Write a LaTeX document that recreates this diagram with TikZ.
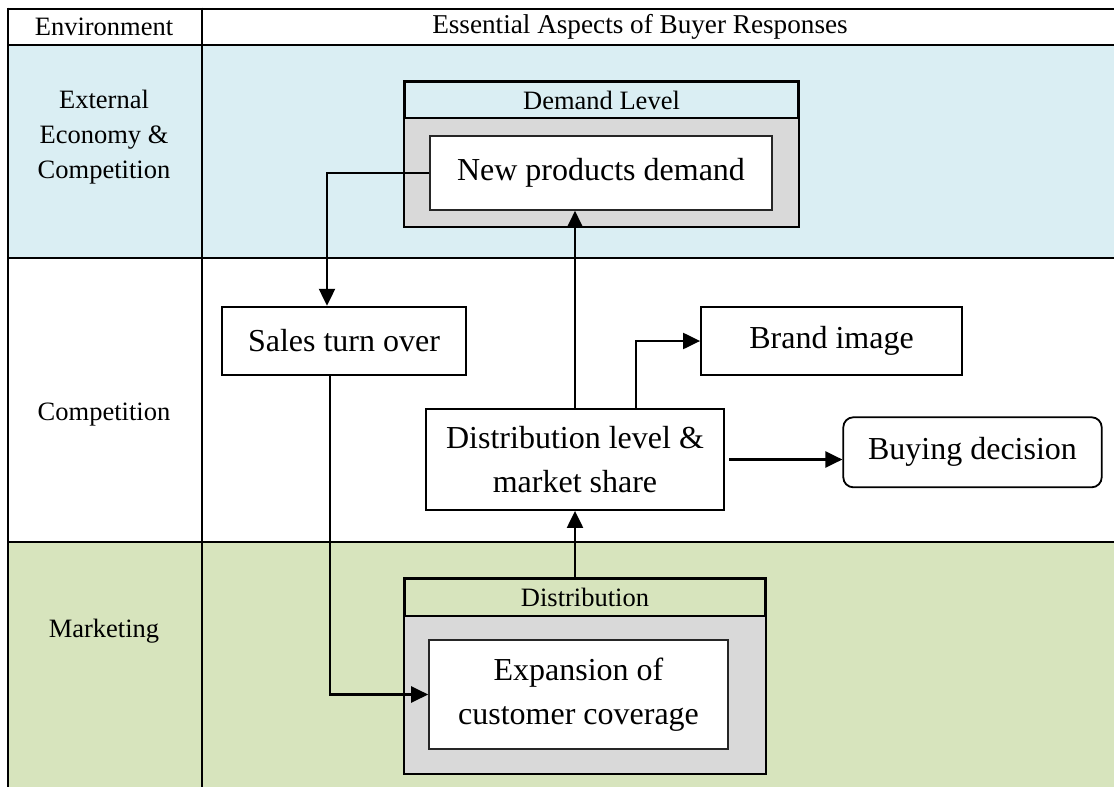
\documentclass[tikz,border=0pt]{standalone}
\usepackage{fontspec}
\setmainfont{Liberation Serif}
\usetikzlibrary{arrows.meta}
\definecolor{rowblue}{HTML}{DAEEF3}
\definecolor{rowgreen}{HTML}{D7E4BD}
\definecolor{boxgray}{HTML}{D9D9D9}
\tikzset{
  smalltxt/.style={font=\fontsize{26.5}{35}\selectfont, align=center, inner sep=0pt},
  bigtxt/.style={font=\fontsize{32}{43.5}\selectfont, align=center},
  grid/.style={line width=2.6pt},
  plainbox/.style={bigtxt, draw, line width=1.8pt, fill=white, inner sep=0pt},
  innerbox/.style={bigtxt, draw=black!85, line width=1.6pt, fill=white, inner sep=0pt},
  outerbox/.style={draw, line width=2.2pt, inner sep=0pt},
  arr/.style={line width=2.2pt, -{Triangle[length=17pt,width=16pt]}},
  link/.style={line width=2pt}
}
\begin{document}
\begin{tikzpicture}[x=1pt,y=-1pt]
\useasboundingbox (0,0) rectangle (1114,787);
\fill[white] (0,0) rectangle (1114,787);

% row backgrounds
\fill[rowblue] (8,45) rectangle (1114,258);
\fill[rowgreen] (8,542) rectangle (1114,787);

% table rules
\draw[grid] (8,9) -- (1114,9);
\draw[grid] (8,45) -- (1114,45);
\draw[grid] (8,258) -- (1114,258);
\draw[grid] (8,542) -- (1114,542);
\draw[grid] (8,7.7) -- (8,787);
\draw[grid] (202,7.7) -- (202,787);

% headings and row labels
\node[smalltxt] (env) at (104,27) {Environment};
\node[smalltxt, font=\fontsize{27.2}{35}\selectfont] (ess) at (640,27) {Essential Aspects of Buyer Responses};
\node[smalltxt] (ext) at (104,137) {External\\Economy \&\\Competition};
\node[smalltxt] (comp) at (104,415) {Competition};
\node[smalltxt] (mkt) at (104,631) {Marketing};

% demand level group
\node[outerbox, minimum width=393pt, minimum height=144pt] (dlv) at (601.5,154) {};
\fill[boxgray] (dlv.west |- 0,118) rectangle (dlv.south east);
\draw[line width=2.2pt] (dlv.north west) rectangle (dlv.south east);
\draw[line width=2.2pt] (dlv.west |- 0,118) -- (dlv.east |- 0,118);
\node[smalltxt] (dlvt) at (601.5,100) {Demand Level};
\node[innerbox, minimum width=342pt, minimum height=74pt] (npd) at (601,173) {New products demand};

% distribution group
\node[outerbox, minimum width=360pt, minimum height=194pt] (dbox) at (585,676) {};
\fill[boxgray] (dbox.west |- 0,615.7) rectangle (dbox.south east);
\draw[line width=2.2pt] (dbox.north west) rectangle (dbox.south east);
\draw[line width=2.2pt] (dbox.west |- 0,615.7) -- (dbox.east |- 0,615.7);
\node[smalltxt] (dboxt) at (585,597) {Distribution};
\node[innerbox, minimum width=299pt, minimum height=109pt] (exp) at (578.5,694.5) {Expansion of\\customer coverage};

% competition row boxes
\node[plainbox, minimum width=243.4pt, minimum height=68.6pt] (sales) at (344,341) {Sales turn over};
\node[plainbox, minimum width=261pt, minimum height=68pt] (brand) at (831.5,341) {Brand image};
\node[plainbox, minimum width=298.6pt, minimum height=101pt] (dist) at (575,459.5) {Distribution level \&\\market share};
\node[plainbox, rounded corners=10pt, minimum width=258.4pt, minimum height=70pt] (buy) at (972.5,452.3) {Buying decision};

% connectors
\coordinate (k1) at (327,173);
\coordinate (k2) at (636,0);
\coordinate (k3) at (330,0);
\draw[arr] (npd.west) -| (k1 |- sales.north);
\draw[arr] (dist.north) -- (dist.north |- npd.south);
\draw[arr] (k2 |- dist.north) |- (brand.west);
\draw[arr] ([xshift=4pt]dist.east) -- (dist.east -| buy.west);
\draw[arr] (k3 |- sales.south) |- (exp.west);
\draw[arr] (dist.south |- dbox.north) -- (dist.south);
\end{tikzpicture}
\end{document}
